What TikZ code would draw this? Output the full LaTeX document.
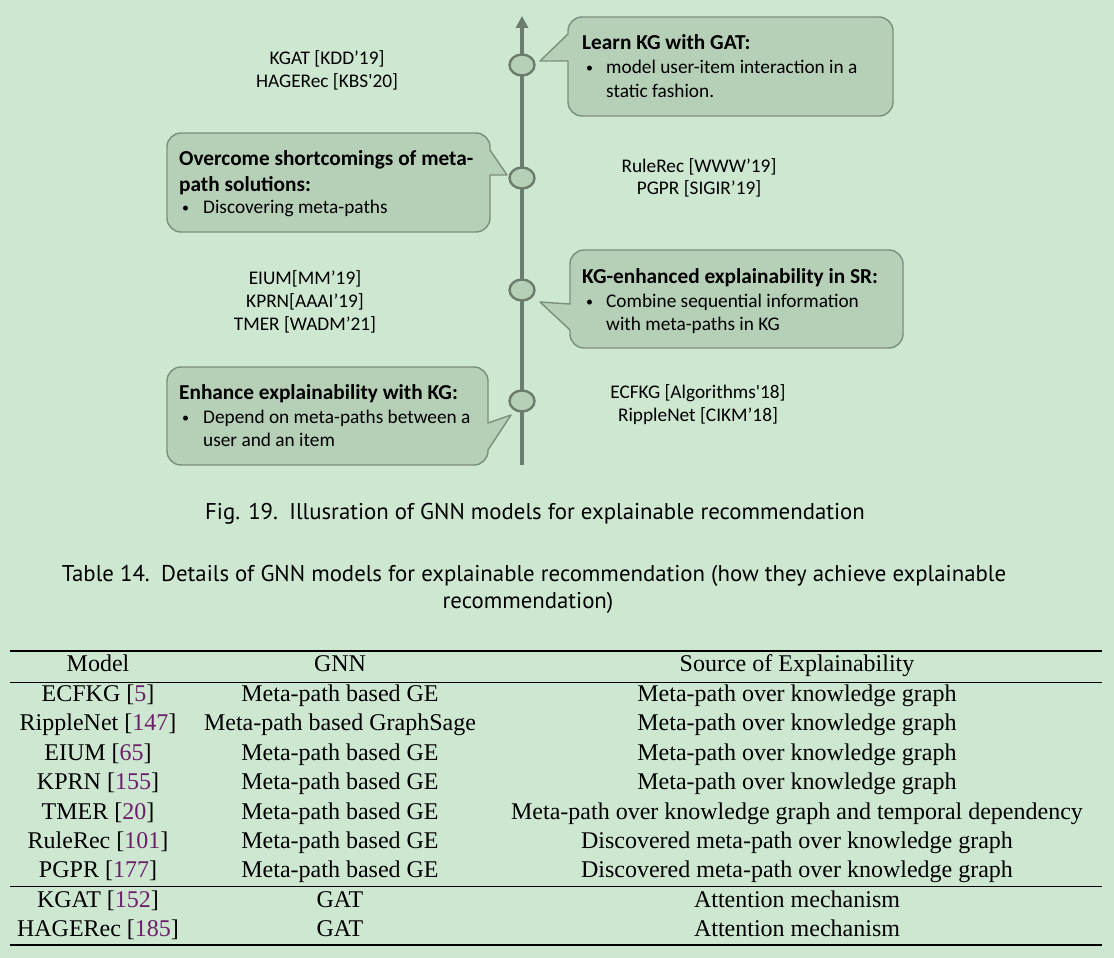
\documentclass[tikz,border=0pt]{standalone}
\usepackage{fontspec}
\setmainfont{Liberation Serif}
\newfontfamily\calfont{Carlito}
\newfontfamily\capfont{PT Sans}
\usetikzlibrary{arrows.meta,shapes.geometric}
\definecolor{bg}{HTML}{CDE7D1}
\definecolor{boxfill}{HTML}{B6CFB7}
\definecolor{boxline}{HTML}{7C8E7D}
\definecolor{axisc}{HTML}{6C7C6D}
\definecolor{citec}{HTML}{6B1F6B}
\newcommand{\cit}[1]{[\textcolor{citec}{#1}]}
\begin{document}
\begin{tikzpicture}[x=1pt,y=-1pt,
  callout/.style={fill=boxfill,draw=boxline,line width=1.4pt,line join=round},
  axisline/.style={draw=axisc,line width=4pt,-{Triangle[length=12pt,width=12pt]}},
  dot/.style={ellipse,draw=axisc,fill=boxfill,line width=2.4pt,minimum width=25pt,minimum height=21pt,inner sep=0pt},
  ttl/.style={font=\calfont\bfseries\fontsize{21.3}{24}\selectfont,inner sep=0pt,anchor=base west},
  txt/.style={font=\calfont\fontsize{19.3}{22}\selectfont,inner sep=0pt,anchor=base west},
  bul/.style={font=\calfont\fontsize{14}{16}\selectfont,inner sep=0pt,anchor=base west},
  lbl/.style={font=\calfont\fontsize{19.3}{22}\selectfont,inner sep=0pt,anchor=base},
  captext/.style={font=\capfont\fontsize{22.8}{26}\selectfont,inner sep=0pt,anchor=base},
  tab/.style={font=\fontsize{24}{28}\selectfont,inner sep=0pt,anchor=base},
  heavyrule/.style={line width=1.2pt},
  thinrule/.style={line width=0.8pt}]
\useasboundingbox[fill=bg] (0,0) rectangle (1114,958);

% timeline
\coordinate (tbot) at (522,465);
\coordinate (ttop) at (522,16);
\draw[axisline] (tbot) -- (ttop);
\node[dot] (c1) at (522,65) {};
\node[dot] (c2) at (522,178) {};
\node[dot] (c3) at (522,290) {};
\node[dot] (c4) at (522,401) {};

% callout 1 (right of axis, pointer left)
\draw[callout] (568,34) -- (568,31) .. controls (568,23.3) and (574.3,17) .. (582,17)
  -- (879,17) .. controls (886.7,17) and (893,23.3) .. (893,31)
  -- (893,102) .. controls (893,109.7) and (886.7,116) .. (879,116)
  -- (582,116) .. controls (574.3,116) and (568,109.7) .. (568,102)
  -- (568,61) -- (540,61) -- cycle;
\node[ttl] (t1) at (582,50) {Learn KG with GAT:};
\node[bul] (b1) at (586,73) {•};
\node[txt] (l1a) at (606,74) {model user-item interaction in a};
\node[txt] (l1b) at (606,97) {static fashion.};

% callout 2 (left of axis, pointer right)
\draw[callout] (490,150) -- (507,175) -- (490,175) -- (490,218) .. controls (490,225.7) and (483.7,232) .. (476,232)
  -- (181,232) .. controls (173.3,232) and (167,225.7) .. (167,218)
  -- (167,147) .. controls (167,139.3) and (173.3,133) .. (181,133)
  -- (476,133) .. controls (483.7,133) and (490,139.3) .. (490,147) -- cycle;
\node[ttl] (t2) at (179,165) {Overcome shortcomings of meta-};
\node[ttl] (t2b) at (179,191) {path solutions:};
\node[bul] (b2) at (182,212) {•};
\node[txt] (l2a) at (203,213) {Discovering meta-paths};

% callout 3 (right of axis, pointer left)
\draw[callout] (570,330) -- (540,302) -- (570,304) -- (570,264) .. controls (570,256.3) and (576.3,250) .. (584,250)
  -- (889,250) .. controls (896.7,250) and (903,256.3) .. (903,264)
  -- (903,334) .. controls (903,341.7) and (896.7,348) .. (889,348)
  -- (584,348) .. controls (576.3,348) and (570,341.7) .. (570,334) -- cycle;
\node[ttl] (t3) at (582,283) {KG-enhanced explainability in SR:};
\node[bul] (b3) at (586,306) {•};
\node[txt] (l3a) at (606,307) {Combine sequential information};
\node[txt] (l3b) at (606,330) {with meta-paths in KG};

% callout 4 (left of axis, pointer right)
\draw[callout] (488,423) -- (511,415) -- (488,450) -- (488,451) .. controls (488,458.7) and (481.7,465) .. (474,465)
  -- (181,465) .. controls (173.3,465) and (167,458.7) .. (167,451)
  -- (167,381) .. controls (167,373.3) and (173.3,367) .. (181,367)
  -- (474,367) .. controls (481.7,367) and (488,373.3) .. (488,381) -- cycle;
\node[ttl] (t4) at (179,399) {Enhance explainability with KG:};
\node[bul] (b4) at (182,422) {•};
\node[txt] (l4a) at (203,423) {Depend on meta-paths between a};
\node[txt] (l4b) at (203,446) {user and an item};

% side labels
\node[lbl] (s1a) at (327,65) {KGAT [KDD’19]};
\node[lbl] (s1b) at (327,88) {HAGERec [KBS\textquotesingle 20]};
\node[lbl] (s2a) at (699,172) {RuleRec [WWW’19]};
\node[lbl] (s2b) at (699,194) {PGPR [SIGIR’19]};
\node[lbl] (s3a) at (305,284) {EIUM[MM’19]};
\node[lbl] (s3b) at (305,307) {KPRN[AAAI’19]};
\node[lbl] (s3c) at (305,330) {TMER [WADM’21]};
\node[lbl] (s4a) at (698,398) {ECFKG [Algorithms\textquotesingle 18]};
\node[lbl] (s4b) at (698,421) {RippleNet [CIKM’18]};

% captions
\node[captext] (figcap) at (535,519) {Fig. 19.\enspace Illusration of GNN models for explainable recommendation};
\node[captext] (tabcap1) at (534,581) {Table 14.\enspace Details of GNN models for explainable recommendation (how they achieve explainable};
\node[captext] (tabcap2) at (528,608) {recommendation)};

% table rules
\coordinate (r1l) at (10,651); \coordinate (r1r) at (1102,651);
\coordinate (r2l) at (10,682); \coordinate (r2r) at (1102,682);
\coordinate (r3l) at (10,886); \coordinate (r3r) at (1102,886);
\coordinate (r4l) at (10,945); \coordinate (r4r) at (1102,945);
\draw[heavyrule] (r1l) -- (r1r);
\draw[thinrule] (r2l) -- (r2r);
\draw[thinrule] (r3l) -- (r3r);
\draw[heavyrule] (r4l) -- (r4r);

% header
\node[tab] (h1) at (98,671) {Model};
\node[tab] (h2) at (340,671) {GNN};
\node[tab] (h3) at (797,671) {Source of Explainability};

% rows
\node[tab] (m1) at (98,701) {ECFKG \cit{5}};
\node[tab] (g1) at (340,701) {Meta-path based GE};
\node[tab] (e1) at (797,701) {Meta-path over knowledge graph};
\node[tab] (m2) at (98,730) {RippleNet \cit{147}};
\node[tab] (g2) at (340,730) {Meta-path based GraphSage};
\node[tab] (e2) at (797,730) {Meta-path over knowledge graph};
\node[tab] (m3) at (98,760) {EIUM \cit{65}};
\node[tab] (g3) at (340,760) {Meta-path based GE};
\node[tab] (e3) at (797,760) {Meta-path over knowledge graph};
\node[tab] (m4) at (98,789) {KPRN \cit{155}};
\node[tab] (g4) at (340,789) {Meta-path based GE};
\node[tab] (e4) at (797,789) {Meta-path over knowledge graph};
\node[tab] (m5) at (98,819) {TMER \cit{20}};
\node[tab] (g5) at (340,819) {Meta-path based GE};
\node[tab] (e5) at (797,819) {Meta-path over knowledge graph and temporal dependency};
\node[tab] (m6) at (98,848) {RuleRec \cit{101}};
\node[tab] (g6) at (340,848) {Meta-path based GE};
\node[tab] (e6) at (797,848) {Discovered meta-path over knowledge graph};
\node[tab] (m7) at (98,877) {PGPR \cit{177}};
\node[tab] (g7) at (340,877) {Meta-path based GE};
\node[tab] (e7) at (797,877) {Discovered meta-path over knowledge graph};
\node[tab] (m8) at (98,907) {KGAT \cit{152}};
\node[tab] (g8) at (340,907) {GAT};
\node[tab] (e8) at (797,907) {Attention mechanism};
\node[tab] (m9) at (98,936) {HAGERec \cit{185}};
\node[tab] (g9) at (340,936) {GAT};
\node[tab] (e9) at (797,936) {Attention mechanism};
\end{tikzpicture}
\end{document}
